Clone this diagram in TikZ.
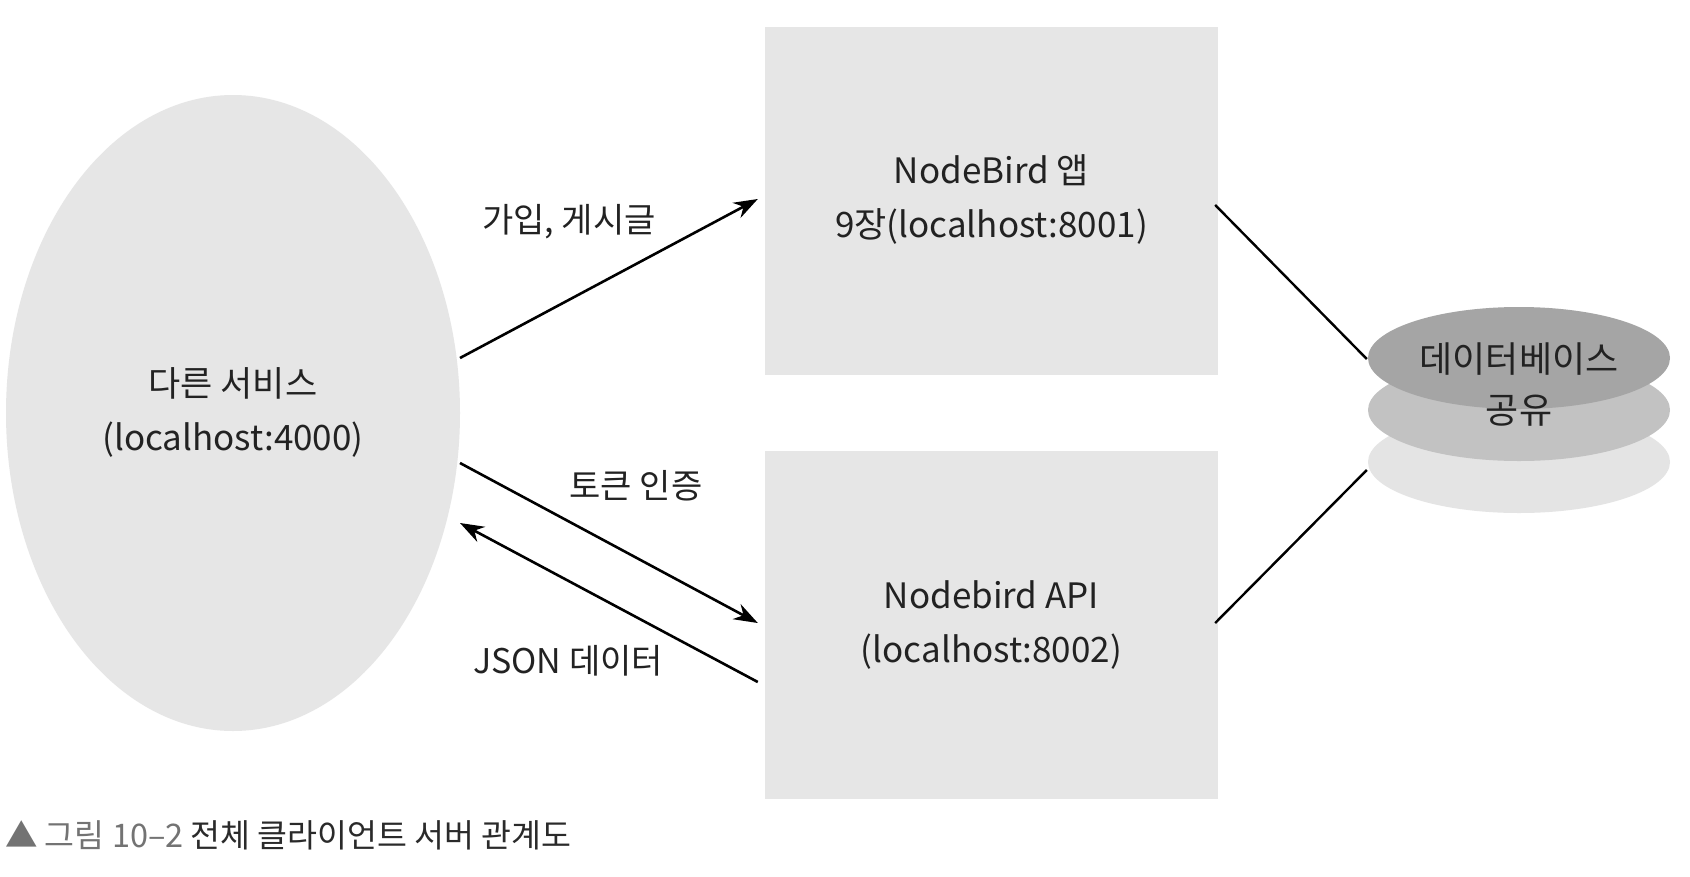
\documentclass[tikz,border=0pt]{standalone}
\usepackage{fontspec}
\setmainfont{Noto Sans CJK KR}
\usetikzlibrary{shapes.geometric,arrows.meta,calc}
\definecolor{shapegray}{HTML}{E6E6E6}
\definecolor{dbdark}{HTML}{A5A5A5}
\definecolor{dbmid}{HTML}{C2C2C2}
\definecolor{dblight}{HTML}{E4E4E4}
\definecolor{txt}{HTML}{222222}
\definecolor{capgray}{HTML}{737373}
\definecolor{capdark}{HTML}{2A2A2A}
\tikzset{
  svcshape/.style={ellipse, fill=shapegray, draw=none, inner sep=0pt, minimum width=454pt, minimum height=636pt},
  srvbox/.style={rectangle, fill=shapegray, draw=none, inner sep=0pt, minimum width=453pt, minimum height=348pt},
  dbdisk/.style={ellipse, draw=none, inner sep=0pt, minimum width=302pt, minimum height=102pt},
  maintext/.style={text=txt, font=\fontsize{35}{54}\selectfont, align=center, inner sep=0pt},
  dbtext/.style={text=txt, font=\fontsize{36}{51}\selectfont, align=center, inner sep=0pt},
  lbl/.style={text=txt, font=\fontsize{34}{40}\selectfont, inner sep=0pt},
  arr/.style={draw=black, line width=2.6pt, -{Stealth[length=24pt,width=17pt]}},
  link/.style={draw=black, line width=2.4pt}
}
\begin{document}
\begin{tikzpicture}[x=1pt,y=-1pt]
\useasboundingbox[fill=white] (0,0) rectangle (1690,876);
% shapes
\node[svcshape] (svc) at (233,413) {};
\node[srvbox] (app) at (991.5,200.5) {};
\node[srvbox] (api) at (991.5,624.5) {};
\node[dbdisk, fill=dblight] (db3) at (1519,462) {};
\node[dbdisk, fill=dbmid] (db2) at (1519,410) {};
\node[dbdisk, fill=dbdark] (db1) at (1519,358) {};
% texts
\node[maintext] (svctxt) at (233,412) {다른 서비스\\(localhost:4000)};
\node[maintext] (apptxt) at (991.5,199) {NodeBird 앱\\9장(localhost:8001)};
\node[maintext] (apitxt) at (991.5,624.5) {Nodebird API\\(localhost:8002)};
\node[dbtext] (dbtxt) at (1519,384.5) {데이터베이스\\공유};
% connectors
\draw[arr] ($(svc.center)+(227,-55)$) -- ($(app.west)+(-7,-1.5)$);
\draw[arr] ($(svc.center)+(227,50)$) -- ($(api.west)+(-7,-1.5)$);
\draw[arr] ($(api.west)+(-7,57.5)$) -- ($(svc.center)+(227,110)$);
\draw[link] ($(app.east)+(-3,4.5)$) -- ($(db1.west)+(-1,1)$);
\draw[link] ($(api.east)+(-3,-1.5)$) -- ($(db3.west)+(-1,8)$);
% labels
\node[lbl] (l1) at (569,222) {가입, 게시글};
\node[lbl] (l2) at (636,486) {토큰 인증};
\node[lbl] (l3) at (568,661) {JSON 데이터};
% caption
\node[anchor=west, inner sep=0pt, font=\fontsize{32.5}{38}\selectfont] (cap) at (5,835) {\textcolor{capgray}{▲ 그림 10–2} \textcolor{capdark}{전체 클라이언트 서버 관계도}};
\end{tikzpicture}
\end{document}
